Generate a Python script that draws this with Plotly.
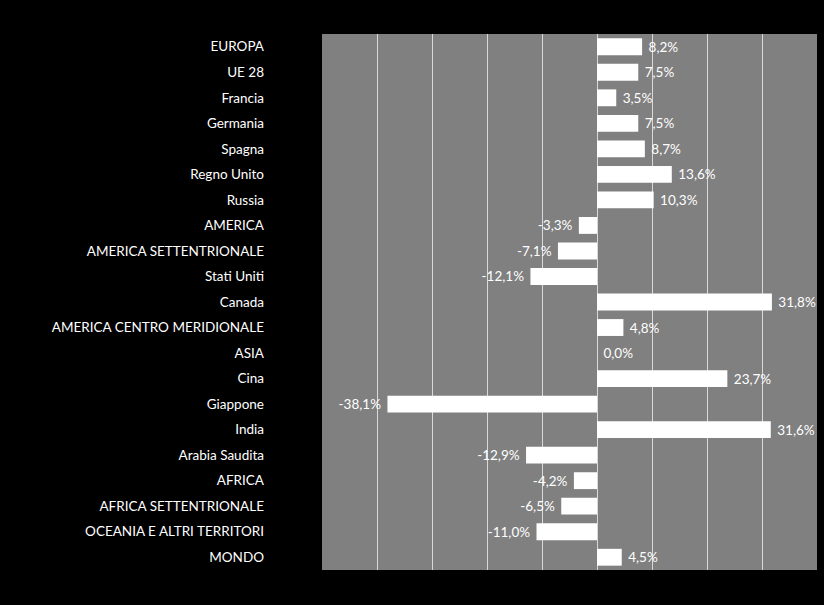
import plotly.graph_objects as go

categories = ["EUROPA", "UE 28", "Francia", "Germania", "Spagna", "Regno Unito", "Russia",
              "AMERICA", "AMERICA SETTENTRIONALE", "Stati Uniti", "Canada",
              "AMERICA CENTRO MERIDIONALE", "ASIA", "Cina", "Giappone", "India",
              "Arabia Saudita", "AFRICA", "AFRICA SETTENTRIONALE",
              "OCEANIA E ALTRI TERRITORI", "MONDO"]
values = [8.2, 7.5, 3.5, 7.5, 8.7, 13.6, 10.3,
          -3.3, -7.1, -12.1, 31.8,
          4.8, 0.0, 23.7, -38.1, 31.6,
          -12.9, -4.2, -6.5,
          -11.0, 4.5]

pad = "\u00a0"
labels = []
for v in values:
    s = f"{v:.1f}%".replace(".", ",")
    labels.append(s + pad if v < 0 else pad + s)

fig = go.Figure(go.Bar(
    y=categories, x=values, orientation="h",
    marker=dict(color="white", line=dict(width=0)),
    text=labels, textposition="outside", cliponaxis=False,
    textfont=dict(color="white", size=13.5, family="Lato"),
))

fig.update_layout(
    width=824, height=605,
    paper_bgcolor="black", plot_bgcolor="#808080",
    margin=dict(l=322, r=7, t=34, b=35),
    bargap=0.34,
    showlegend=False,
    font=dict(family="Lato", color="white", size=13.5),
)
fig.update_xaxes(range=[-50, 40], dtick=10, tick0=0, showgrid=True,
                 gridcolor="#d9d9d9", gridwidth=1, showticklabels=False,
                 zeroline=True, zerolinecolor="#d9d9d9", zerolinewidth=1,
                 showline=False)
fig.update_yaxes(autorange="reversed", showgrid=False, ticklabelstandoff=57,
                 tickfont=dict(color="white", size=13.5, family="Lato"))

fig.write_html("out.html", config={"displayModeBar": False},
               post_script="document.body.style.margin='0';document.body.style.background='black';")
